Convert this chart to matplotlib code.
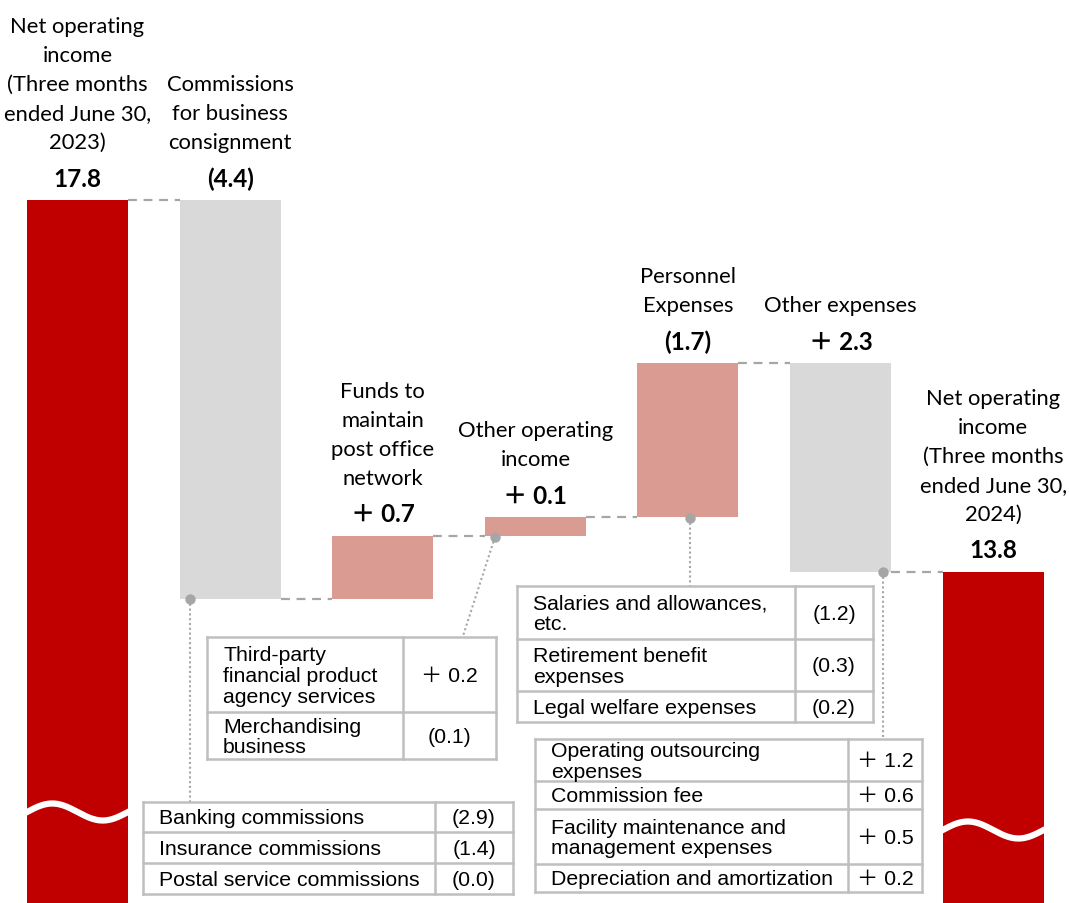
import matplotlib
matplotlib.use('Agg')
import matplotlib.pyplot as plt
from matplotlib.patches import Rectangle
import numpy as np

# ---------------- data ----------------
categories = [
    "Net operating\nincome\n(Three months\nended June 30,\n2023)",
    "Commissions\nfor business\nconsignment",
    "Funds to\nmaintain\npost office\nnetwork",
    "Other operating\nincome",
    "Personnel\nExpenses",
    "Other expenses",
    "Net operating\nincome\n(Three months\nended June 30,\n2024)",
]
start_value = 17.8
deltas = [-4.4, 0.7, 0.2, 1.7, -2.3]          # bar heights as drawn
value_labels = ["17.8", "(4.4)", "＋ 0.7", "＋ 0.1", "(1.7)", "＋ 2.3", "13.8"]

tableA_items = ["Third-party\nfinancial product\nagency services", "Merchandising\nbusiness"]
tableA_values = ["＋ 0.2", "(0.1)"]
tableB_items = ["Banking commissions", "Insurance commissions", "Postal service commissions"]
tableB_values = ["(2.9)", "(1.4)", "(0.0)"]
tableC_items = ["Salaries and allowances,\netc.", "Retirement benefit\nexpenses", "Legal welfare expenses"]
tableC_values = ["(1.2)", "(0.3)", "(0.2)"]
tableD_items = ["Operating outsourcing\nexpenses", "Commission fee",
                "Facility maintenance and\nmanagement expenses", "Depreciation and amortization"]
tableD_values = ["＋ 1.2", "＋ 0.6", "＋ 0.5", "＋ 0.2"]

# ---------------- style ----------------
W, H = 1069, 904
RED = "#C00000"
GRAY = "#D9D9D9"
PINK = "#DA9B93"
LINE = "#A6A6A6"
BORDER = "#BFBFBF"
LBL_FONT = ["Lato", "Noto Sans CJK JP"]
TBL_FONT = ["Liberation Sans", "Noto Sans CJK JP"]

fig = plt.figure(figsize=(W / 100, H / 100), dpi=100)
ax = fig.add_axes([0, 0, 1, 1])
ax.set_xlim(-0.508, 6.497)
ax.set_ylim(10.047, 20.017)
ax.axis('off')

def px(xp, yp):
    return ax.transData.inverted().transform((xp, H - yp))

bw = 0.662
y_bottom = ax.get_ylim()[0]

# waterfall levels
levels = [start_value]
for d in deltas:
    levels.append(levels[-1] + d)
end_value = levels[-1]

bars = []  # (x, lo, hi, color)
bars.append((0, y_bottom, start_value, RED))
for i, d in enumerate(deltas):
    lo, hi = sorted([levels[i], levels[i + 1]])
    col = GRAY if d < 0 else PINK
    bars.append((i + 1, lo, hi, col))
bars.append((6, y_bottom, end_value, RED))

for x, lo, hi, c in bars:
    ax.bar(x, hi - lo, bottom=lo, width=bw, color=c, edgecolor='none', zorder=2)

# dashed connectors
for i in range(6):
    lv = levels[i] if i < len(levels) else end_value
    ax.plot([i + bw / 2, i + 1 - bw / 2], [lv, lv], color=LINE, lw=1.6,
            dashes=(4, 3), zorder=1)

# wavy breaks
def wave(xc, yc_px, amp_px=8.5):
    xs = np.linspace(xc - bw / 2 - 0.01, xc + bw / 2 + 0.01, 200)
    x0p = ax.transData.transform((xc - bw / 2, 0))[0]
    x1p = ax.transData.transform((xc + bw / 2, 0))[0]
    xps = ax.transData.transform(np.column_stack([xs, np.zeros_like(xs)]))[:, 0]
    t = (xps - x0p) / (x1p - x0p)
    yps = yc_px - amp_px * np.sin(2 * np.pi * t)
    ys = [px(0, yp)[1] for yp in yps]
    ax.plot(xs, ys, color='white', lw=4.5, zorder=3, solid_capstyle='butt')

wave(0, 813)
wave(6, 831)

# labels above bars
for i, (x, lo, hi, c) in enumerate(bars):
    ax.annotate(value_labels[i], (x, hi), xytext=(0, 22), textcoords='offset pixels',
                ha='center', va='center', fontsize=17.5, fontweight='bold',
                family=LBL_FONT, color='black', zorder=5)
    ax.annotate(categories[i], (x, hi), xytext=(0, 48), textcoords='offset pixels',
                ha='center', va='bottom', fontsize=15.8, family=LBL_FONT,
                color='black', linespacing=1.56, zorder=5)

# leader lines with dots
leaders = [((190, 600), (190, 803)),
           ((495, 538), (463, 637)),
           ((690, 519), (690, 587)),
           ((883, 573), (883, 740))]
for (a, b) in leaders:
    pa, pb = px(*a), px(*b)
    ax.plot([pa[0], pb[0]], [pa[1], pb[1]], color=LINE, lw=1.5,
            linestyle=(0, (1, 1.3)), zorder=4, clip_on=False)
    ax.plot(pa[0], pa[1], 'o', color=LINE, ms=7.5, mec='none', zorder=5)

# tables
def draw_table(left, right, col, rows, items, values):
    def hline(yp, x0, x1):
        p0, p1 = px(x0, yp), px(x1, yp)
        ax.plot([p0[0], p1[0]], [p0[1], p1[1]], color=BORDER, lw=1.8, zorder=6,
                solid_capstyle='projecting', clip_on=False)
    def vline(xp, y0, y1):
        p0, p1 = px(xp, y0), px(xp, y1)
        ax.plot([p0[0], p1[0]], [p0[1], p1[1]], color=BORDER, lw=1.8, zorder=6,
                solid_capstyle='projecting', clip_on=False)
    bl, tr = px(left, rows[-1]), px(right, rows[0])
    ax.add_patch(Rectangle(bl, tr[0] - bl[0], tr[1] - bl[1], facecolor='white',
                           edgecolor='none', zorder=5))
    for yp in rows:
        hline(yp, left, right)
    vline(left, rows[0], rows[-1])
    vline(right, rows[0], rows[-1])
    vline(col, rows[0], rows[-1])
    for k, (it, v) in enumerate(zip(items, values)):
        yc = (rows[k] + rows[k + 1]) / 2 + 1
        p = px(left + 16, yc)
        ax.text(p[0], p[1], it, ha='left', va='center', fontsize=15.3, family=TBL_FONT,
                color='black', linespacing=1.13, zorder=7)
        p = px((col + right) / 2, yc)
        ax.text(p[0], p[1], v, ha='center', va='center', fontsize=15.3, family=TBL_FONT,
                color='black', zorder=7)

draw_table(207, 496, 403, [638, 713, 760], tableA_items, tableA_values)
draw_table(143, 513, 435, [803, 833, 864, 895], tableB_items, tableB_values)
draw_table(517, 873, 795, [587, 640, 692, 723], tableC_items, tableC_values)
draw_table(535, 922, 848, [740, 782, 810, 865, 893], tableD_items, tableD_values)

fig.savefig("out.png", dpi=100)
